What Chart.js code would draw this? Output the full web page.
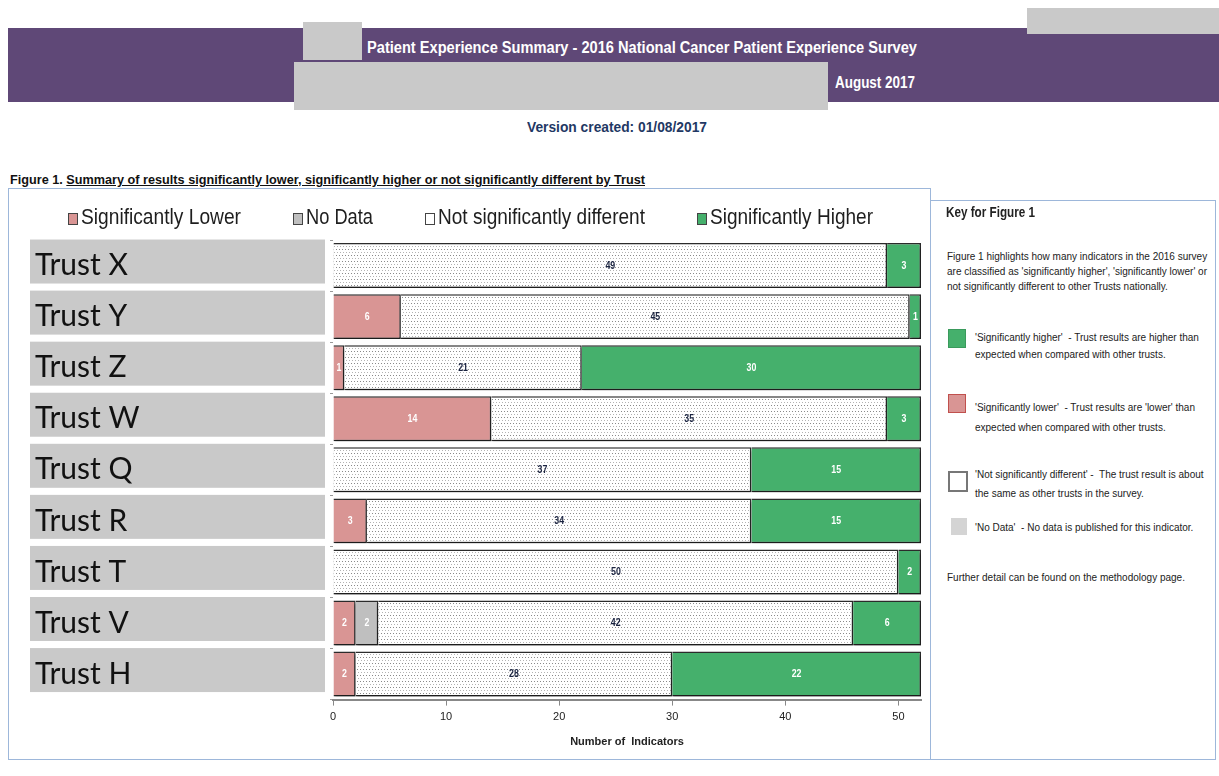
<!DOCTYPE html>
<html>
<head>
<meta charset="utf-8">
<script src="https://cdn.jsdelivr.net/npm/chart.js@4"></script>
<style>
    body { margin: 0; width: 1219px; height: 776px; background: #fff; position: relative; overflow: hidden;
           font-family: "Liberation Sans", Arial, sans-serif; }
    .abs { position: absolute; }
    .fit { white-space: nowrap; transform-origin: 0 0; }
    .band { left: 8px; top: 28px; width: 1211px; height: 74px; background: #5f4877; }
    .grey { background: #c9c9c9; }
    .head { color: #fff; font-weight: bold; font-size: 16px; }
    .version { color: #1f3864; font-weight: bold; font-size: 15px; }
    .caption { font-size: 13px; font-weight: bold; color: #111; }
    .chartBox { left: 8px; top: 188px; width: 921px; height: 570px; border: 1.5px solid #9db7da; }
    .keyBox { left: 931px; top: 200px; width: 284px; height: 558px; border: 1.5px solid #9db7da; border-left: none; }
    .key { font-size: 10px; color: #222; line-height: 15px; white-space: nowrap; }
    .sq { width: 16px; height: 17px; }
    .lgBox { width: 8px; height: 10px; border: 1px solid #444; }
    .lgText { font-size: 22px; color: #1e1e1e; }
</style>
</head>
<body>
<div class="abs band"></div>
<div class="abs grey" style="left:303px; top:22px; width:59px; height:38px;"></div>
<div class="abs grey" style="left:294px; top:62px; width:534px; height:48px;"></div>
<div class="abs grey" style="left:1027px; top:8px; width:192px; height:26px;"></div>
<div class="abs head fit" data-w="550" style="left:367px; top:39px;">Patient Experience Summary - 2016 National Cancer Patient Experience Survey</div>
<div class="abs head fit" data-w="80" style="left:835px; top:74px;">August 2017</div>
<div class="abs version fit" data-w="180" style="left:527px; top:118px;">Version created: 01/08/2017</div>
<div class="abs caption fit" data-w="635" style="left:10px; top:172px;">Figure 1. <u>Summary of results significantly lower, significantly higher or not significantly different by Trust</u></div>

<div class="abs chartBox"><canvas id="chart" width="921" height="570"></canvas></div>
<div id="legend"></div>

<div class="abs keyBox"></div>
<div class="abs key fit" data-w="89" style="left:946px; top:205px; font-size:14px; font-weight:bold;">Key for Figure 1</div>
<div class="abs key" style="left:947px; top:249px;">Figure 1 highlights how many indicators in the 2016 survey<br>are classified as 'significantly higher', 'significantly lower' or<br>not significantly different to other Trusts nationally.</div>
<div class="abs sq" style="left:948px; top:329px; background:#45b06c; border:1px solid #3a9a5c;"></div>
<div class="abs key" style="left:975px; top:329px; line-height:17px;">'Significantly higher'&nbsp; - Trust results are higher than<br>expected when compared with other trusts.</div>
<div class="abs sq" style="left:948px; top:394px; background:#d99594; border:1px solid #c0504d;"></div>
<div class="abs key" style="left:975px; top:398px; line-height:20px;">'Significantly lower'&nbsp; - Trust results are 'lower' than<br>expected when compared with other trusts.</div>
<div class="abs sq" style="left:948px; top:471px; background:#fff; border:2px solid #777;"></div>
<div class="abs key" style="left:975px; top:465px; line-height:19px;">'Not significantly different' -&nbsp; The trust result is about<br>the same as other trusts in the survey.</div>
<div class="abs sq" style="left:951px; top:518px; background:#d4d4d4;"></div>
<div class="abs key" style="left:975px; top:520px;">'No Data'&nbsp; - No data is published for this indicator.</div>
<div class="abs key" style="left:947px; top:570px;">Further detail can be found on the methodology page.</div>

<script>
const trusts = ['Trust X', 'Trust Y', 'Trust Z', 'Trust W', 'Trust Q', 'Trust R', 'Trust T', 'Trust V', 'Trust H'];
const sigLower = [0, 6, 1, 14, 0, 3, 0, 2, 2];
const noData = [0, 0, 0, 0, 0, 0, 0, 2, 0];
const notSig = [49, 45, 21, 35, 37, 34, 50, 42, 28];
const sigHigher = [3, 1, 30, 3, 15, 15, 2, 6, 22];
const xTicks = [0, 10, 20, 30, 40, 50];

const font = '"Liberation Sans", Arial, sans-serif';

// dotted fill for "not significantly different"
function dotPattern() {
    const c = document.createElement('canvas');
    c.width = 6; c.height = 6;
    const g = c.getContext('2d');
    g.fillStyle = '#fff';
    g.fillRect(0, 0, 6, 6);
    g.fillStyle = '#8a8a8a';
    g.fillRect(0, 0, 1, 1);
    g.fillRect(3, 0, 1, 1);
    g.fillStyle = '#b4b4b4';
    g.fillRect(1, 3, 1, 1);
    g.fillRect(4, 3, 1, 1);
    return g.createPattern(c, 'repeat');
}

// grey boxes behind trust names
const trustLabels = {
    id: 'trustLabels',
    beforeDraw(chart) {
        const ctx = chart.ctx;
        const y = chart.scales.y;
        ctx.save();
        chart.data.labels.forEach((name, i) => {
            const cy = y.getPixelForTick(i);
            ctx.fillStyle = '#c9c9c9';
            ctx.fillRect(21, cy - 26, 295, 44);
            ctx.fillStyle = '#111';
            ctx.font = '30px Lato, "Open Sans", sans-serif';
            ctx.textBaseline = 'middle';
            ctx.fillText(name, 26, cy);
        });
        ctx.restore();
    }
};

// shadow under bars
const barShadow = {
    id: 'barShadow',
    beforeDatasetsDraw(chart) {
        const ctx = chart.ctx;
        ctx.save();
        ctx.shadowColor = 'rgba(0,0,0,0.35)';
        ctx.shadowOffsetX = 1;
        ctx.shadowOffsetY = 3;
        ctx.shadowBlur = 2;
    },
    afterDatasetsDraw(chart) {
        chart.ctx.restore();
    }
};

// value labels inside segments
const valueLabels = {
    id: 'valueLabels',
    afterDatasetsDraw(chart) {
        const ctx = chart.ctx;
        ctx.save();
        ctx.font = 'bold 11px ' + font;
        ctx.textAlign = 'center';
        ctx.textBaseline = 'middle';
        chart.data.datasets.forEach((ds, di) => {
            const meta = chart.getDatasetMeta(di);
            meta.data.forEach((bar, i) => {
                const v = ds.data[i];
                if (!v) return;
                const cx = (bar.x + bar.base) / 2;
                ctx.save();
                ctx.translate(cx, bar.y);
                ctx.scale(0.8, 1);
                ctx.fillStyle = di === 2 ? '#1a2340' : '#fff';
                ctx.fillText(v, 0, 0);
                ctx.restore();
            });
        });
        ctx.restore();
    }
};

const border = '#2b2b2b';
const ctx = document.getElementById('chart').getContext('2d');
const chart = new Chart(ctx, {
    type: 'bar',
    data: {
        labels: trusts,
        datasets: [
            { label: 'Significantly Lower', data: sigLower, backgroundColor: '#d99594', borderColor: border, borderWidth: 1.5 },
            { label: 'No Data', data: noData, backgroundColor: '#bfbfbf', borderColor: border, borderWidth: 1.5 },
            { label: 'Not significantly different', data: notSig, backgroundColor: dotPattern(), borderColor: border, borderWidth: 1.5 },
            { label: 'Significantly Higher', data: sigHigher, backgroundColor: '#45b06c', borderColor: border, borderWidth: 1.5 }
        ]
    },
    options: {
        indexAxis: 'y',
        responsive: false,
        animation: false,
        layout: { padding: { top: 51, right: 9, left: 0, bottom: 6 } },
        datasets: { bar: { categoryPercentage: 1, barPercentage: 0.88 } },
        scales: {
            x: {
                stacked: true,
                min: 0,
                max: 52,
                afterBuildTicks(scale) {
                    scale.ticks = xTicks.map(v => ({ value: v }));
                },
                grid: { drawOnChartArea: false, drawTicks: true, tickLength: 6, color: '#888' },
                border: { display: true, color: '#888', width: 2 },
                ticks: { color: '#222', font: { family: font, size: 11 }, padding: 5 },
                title: { display: true, text: 'Number of  Indicators', color: '#222',
                         font: { family: font, size: 11, weight: 'bold' }, padding: { top: 7 } }
            },
            y: {
                stacked: true,
                afterFit(scale) { scale.width = 324; },
                ticks: { display: false },
                grid: { drawOnChartArea: false, drawTicks: true, tickLength: 3, color: '#999' },
                border: { display: false }
            }
        },
        plugins: {
            legend: { display: false },
            tooltip: { enabled: false }
        }
    },
    plugins: [trustLabels, barShadow, valueLabels]
});

// legend built from the chart's datasets, laid out like the original
const legendBoxX = [68, 293, 425, 697];
const legendTextW = [160, 67, 207, 163];
const legendEl = document.getElementById('legend');
chart.data.datasets.forEach((ds, i) => {
    const box = document.createElement('div');
    box.className = 'abs lgBox';
    box.style.left = legendBoxX[i] + 'px';
    box.style.top = '213px';
    box.style.background = i === 2 ? '#fff' : ds.backgroundColor;
    legendEl.appendChild(box);
    const t = document.createElement('div');
    t.className = 'abs lgText fit';
    t.dataset.w = legendTextW[i];
    t.style.left = (legendBoxX[i] + 13) + 'px';
    t.style.top = '204px';
    t.textContent = ds.label;
    legendEl.appendChild(t);
});

// squeeze text horizontally to mimic the narrow font of the original
document.querySelectorAll('.fit[data-w]').forEach(el => {
    const w = el.getBoundingClientRect().width;
    el.style.transform = 'scaleX(' + (Number(el.dataset.w) / w) + ')';
});
</script>
</body>
</html>
